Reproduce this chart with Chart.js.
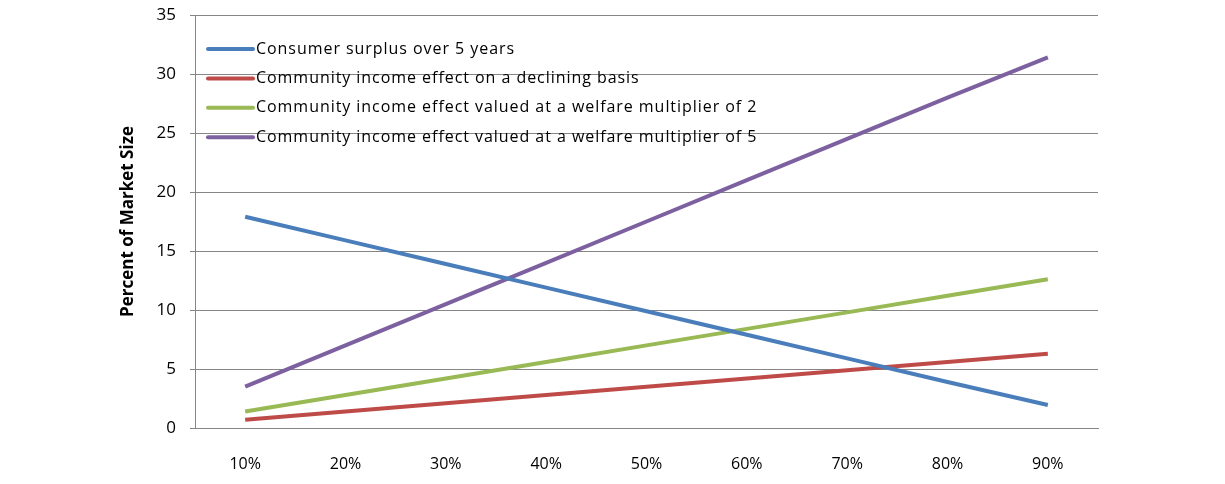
<!DOCTYPE html>
<html>
<head>
  <meta charset="utf-8">
  <title>Percent of Market Size</title>
  <script src="https://cdn.jsdelivr.net/npm/chart.js@4"></script>
  <style>
    html, body { margin: 0; padding: 0; background: #fff; }
    #wrap { width: 1225px; height: 484px; }
  </style>
</head>
<body>
<div id="wrap"><canvas id="canvas"></canvas></div>
<script>
// data
var categories = ['10%', '20%', '30%', '40%', '50%', '60%', '70%', '80%', '90%'];
var consumerSurplus = [17.9, 15.9, 13.9, 11.9, 9.9, 7.9, 5.9, 3.9, 1.95];
var declining = [0.7, 1.4, 2.1, 2.8, 3.5, 4.2, 4.9, 5.6, 6.3];
var multiplier2 = [1.4, 2.8, 4.2, 5.6, 7.0, 8.4, 9.8, 11.2, 12.6];
var multiplier5 = [3.5, 7.0, 10.5, 14.0, 17.5, 21.0, 24.5, 28.0, 31.4];
var seriesNames = [
  'Consumer surplus over 5 years',
  'Community income effect on a declining basis',
  'Community income effect valued at a welfare multiplier of 2',
  'Community income effect valued at a welfare multiplier of 5'
];
var seriesColors = ['#4A7EBB', '#BE4B48', '#98B954', '#7D60A0'];
var yTicks = [0, 5, 10, 15, 20, 25, 30, 35];

var fontFam = '"Open Sans", "Liberation Sans", sans-serif';

function makeSet(i, data) {
  return {
    label: seriesNames[i],
    data: data,
    borderColor: seriesColors[i],
    backgroundColor: seriesColors[i],
    borderWidth: 4,
    pointRadius: 0,
    tension: 0,
    fill: false
  };
}

// legend sits inside the plot, over the grid lines
var insideLegend = {
  id: 'insideLegend',
  afterDatasetsDraw: function(chart) {
    var ctx = chart.ctx;
    var area = chart.chartArea;
    ctx.save();
    ctx.font = '16px ' + fontFam;
    ctx.letterSpacing = '0.95px';
    ctx.textBaseline = 'middle';
    ctx.fillStyle = '#000';
    chart.data.datasets.forEach(function(ds, i) {
      var y = area.top + 34 + i * 29.4;
      ctx.strokeStyle = ds.borderColor;
      ctx.lineWidth = 4;
      ctx.lineCap = 'round';
      ctx.beginPath();
      ctx.moveTo(area.left + 13, y);
      ctx.lineTo(area.left + 58, y);
      ctx.stroke();
      ctx.fillText(ds.label, area.left + 61, y);
    });
    ctx.restore();
  }
};

var config = {
  type: 'line',
  data: {
    labels: categories,
    datasets: [
      makeSet(0, consumerSurplus),
      makeSet(1, declining),
      makeSet(2, multiplier2),
      makeSet(3, multiplier5)
    ]
  },
  options: {
    responsive: true,
    maintainAspectRatio: false,
    animation: false,
    layout: { padding: { left: 0, right: 127, top: 15, bottom: 0 } },
    plugins: {
      legend: { display: false },
      tooltip: { enabled: false }
    },
    scales: {
      x: {
        offset: true,
        grid: { display: false, drawTicks: false },
        border: { color: '#868686', width: 1 },
        ticks: { padding: 27, color: '#000', font: { family: fontFam, size: 16 } },
        afterFit: function(s) { s.height = 56; s.paddingLeft = 0; s.paddingRight = 0; }
      },
      y: {
        min: 0,
        max: 35,
        afterBuildTicks: function(s) {
          s.ticks = yTicks.map(function(v) { return { value: v }; });
        },
        grid: { color: '#868686', lineWidth: 1, tickLength: 5 },
        border: { color: '#868686', width: 1 },
        ticks: { padding: 14, color: '#000', font: { family: fontFam, size: 17 } },
        title: {
          display: true,
          text: 'Percent of Market Size',
          color: '#000',
          font: { family: fontFam, size: 17, weight: 'bold' },
          padding: { top: 118, bottom: 0 }
        },
        afterFit: function(s) { s.width = 195; s.paddingTop = 0; s.paddingBottom = 0; }
      }
    }
  },
  plugins: [insideLegend]
};

window.onload = function() {
  window.myLine = new Chart(document.getElementById('canvas'), config);
};
</script>
</body>
</html>
